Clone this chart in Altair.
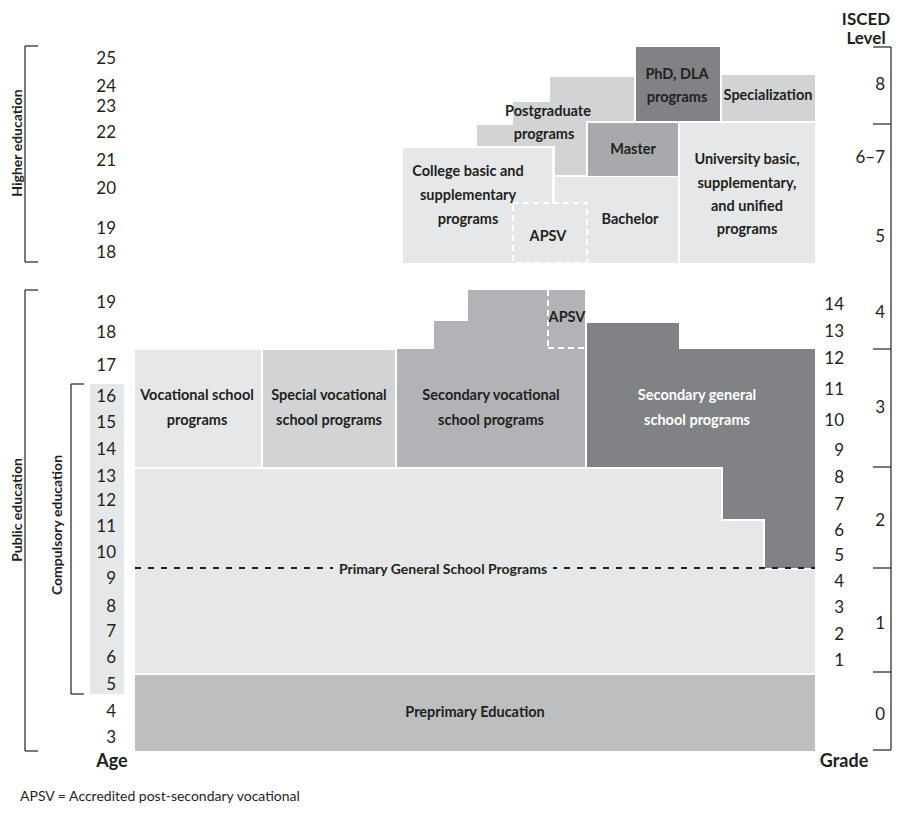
import altair as alt
import pandas as pd

FONT = "Lato"

LIGHT = "#e6e7e8"
MIDLIGHT = "#d1d3d4"
MID = "#b1b3b6"
PRE = "#bcbec0"
MASTER = "#a7a9ac"
DARK = "#808285"

# ---- boxes: program areas (x0, y0, x1, y1 in diagram units), fill ----
box_x0 = [550, 513, 477, 555, 588, 636, 722, 680, 403, 555, 513,
          90,
          135, 263, 397, 434, 468, 587, 587, 723, 765,
          135, 135, 135, 135]
box_y0 = [77, 102, 125, 102, 123, 47, 75, 123, 148, 177, 203,
          384,
          350, 350, 349, 321, 290, 349, 323, 349, 349,
          469, 521, 570, 675]
box_x1 = [634, 586, 586, 586, 678, 720, 815, 815, 552, 678, 587,
          124,
          261, 395, 585, 585, 585, 815, 679, 815, 815,
          721, 763, 815, 815]
box_y1 = [121, 146, 146, 175, 176, 121, 121, 263, 263, 263, 263,
          694,
          467, 467, 467, 467, 467, 467, 467, 519, 568,
          673, 673, 673, 751]
box_fill = [MIDLIGHT, MIDLIGHT, MIDLIGHT, MIDLIGHT, MASTER, DARK, MIDLIGHT, LIGHT, LIGHT, LIGHT, LIGHT,
            LIGHT,
            LIGHT, MIDLIGHT, MID, MID, MID, DARK, DARK, DARK, DARK,
            LIGHT, LIGHT, LIGHT, PRE]

boxes = pd.DataFrame({"x0": box_x0, "y0": box_y0, "x1": box_x1, "y1": box_y1,
                      "fill": box_fill, "order": list(range(len(box_x0)))})

# dashed APSV outline (upper)
apsv_box = pd.DataFrame({"x0": [513], "y0": [203], "x1": [587], "y1": [263]})

# white dashed APSV segments (lower)
wseg = pd.DataFrame({"x0": [548, 548], "y0": [290, 348], "x1": [548, 585], "y1": [348, 348]})

# black dashed primary/lower-secondary line
kdash = pd.DataFrame({"x0": [135], "y0": [568], "x1": [815], "y1": [568]})

# bracket lines
br_x0 = [25, 25, 25, 25, 25, 25, 71, 71, 71,
         891, 873, 873, 873, 873, 873, 873, 873]
br_y0 = [46, 46, 262, 290, 290, 751, 384, 384, 694,
         47, 47, 124, 349, 467, 568, 672, 750]
br_x1 = [25, 38, 38, 25, 38, 38, 71, 84, 84,
         891, 891, 891, 891, 891, 891, 891, 891]
br_y1 = [262, 46, 262, 751, 290, 751, 694, 384, 694,
         750, 47, 124, 349, 467, 568, 672, 750]
brackets = pd.DataFrame({"x0": br_x0, "y0": br_y0, "x1": br_x1, "y1": br_y1})

# ---- program labels ----
lab_text = ["College basic and", "supplementary", "programs", "APSV", "Bachelor",
            "Postgraduate", "programs", "Master", "PhD, DLA", "programs", "Specialization",
            "University basic,", "supplementary,", "and unified", "programs",
            "Vocational school", "programs", "Special vocational", "school programs",
            "Secondary vocational", "school programs", "APSV",
            "Secondary general", "school programs",
            "Preprimary Education"]
lab_x = [468, 468, 468, 548, 630,
         548, 544, 633, 677, 677, 768,
         747, 747, 747, 747,
         197, 197, 329, 329,
         491, 491, 567,
         697, 697,
         475]
lab_y = [172, 196, 220, 237, 220,
         112, 135, 150, 75, 98, 96,
         160, 184, 207, 230,
         396, 421, 396, 421,
         396, 421, 318,
         396, 421,
         713]
lab_color = ["#231f20"] * 22 + ["#ffffff", "#ffffff"] + ["#231f20"]
labels = pd.DataFrame({"text": lab_text, "x": lab_x, "y": lab_y, "color": lab_color})

prim = pd.DataFrame({"text": ["Primary General School Programs"], "x": [443], "y": [570]})

# ---- ages ----
age_text = ["25", "24", "23", "22", "21", "20", "19", "18",
            "19", "18", "17", "16", "15", "14", "13", "12", "11", "10",
            "9", "8", "7", "6", "5", "4", "3"]
age_y = [59, 87, 107, 133, 161, 189, 229, 253,
         303, 333, 366, 397, 423, 450, 477, 501, 527, 553,
         579, 607, 632, 658, 685, 712, 738]
ages = pd.DataFrame({"text": age_text, "x": [116] * len(age_text), "y": age_y})

# ---- grades ----
grade_text = ["14", "13", "12", "11", "10", "9", "8", "7", "6", "5", "4", "3", "2", "1"]
grade_y = [305, 332, 359, 390, 421, 451, 478, 505, 531, 556, 582, 608, 635, 661]
grades = pd.DataFrame({"text": grade_text, "x": [844] * len(grade_text), "y": grade_y})

# ---- ISCED levels ----
isced_text = ["8", "6\u20137", "5", "4", "3", "2", "1", "0"]
isced_y = [85, 158, 237, 313, 408, 521, 624, 715]
isced = pd.DataFrame({"text": isced_text, "x": [885] * len(isced_text), "y": isced_y})

# ---- headers ----
head_text = ["Age", "Grade"]
head_x = [112, 844]
head_y = [762, 762]
heads = pd.DataFrame({"text": head_text, "x": head_x, "y": head_y})

top_text = ["ISCED", "Level"]
top_x = [866, 866]
top_y = [20, 39]
tops = pd.DataFrame({"text": top_text, "x": top_x, "y": top_y})

# ---- rotated bracket labels ----
rot_text = ["Higher education", "Public education", "Compulsory education"]
rot_x = [18, 18, 58]
rot_y = [143, 510, 525]
rots = pd.DataFrame({"text": rot_text, "x": rot_x, "y": rot_y})

foot = pd.DataFrame({"text": ["APSV =  Accredited post-secondary vocational"], "x": [20], "y": [797]})

W, H = 884, 797
xs = alt.Scale(domain=[8, 8 + W], nice=False, zero=False)
ys = alt.Scale(domain=[8, 8 + H], nice=False, zero=False, reverse=True)


def X(f):
    return alt.X(f, type="quantitative", scale=xs, axis=None)


def Y(f):
    return alt.Y(f, type="quantitative", scale=ys, axis=None)


rects = alt.Chart(boxes).mark_rect(strokeWidth=0).encode(
    x=X("x0"), x2="x1", y=Y("y0"), y2="y1",
    color=alt.Color("fill:N", scale=None), order="order:Q")

apsv = alt.Chart(apsv_box).mark_rect(fill=LIGHT, stroke="white", strokeWidth=2,
                                     strokeDash=[6, 4]).encode(
    x=X("x0"), x2="x1", y=Y("y0"), y2="y1")

wlines = alt.Chart(wseg).mark_rule(color="white", strokeWidth=2, strokeDash=[6, 4]).encode(
    x=X("x0"), x2="x1", y=Y("y0"), y2="y1")

klines = alt.Chart(kdash).mark_rule(color="#231f20", strokeWidth=2, strokeDash=[6, 7]).encode(
    x=X("x0"), x2="x1", y=Y("y0"), y2="y1")

# label background over dashed line
pbg = alt.Chart(pd.DataFrame({"x0": [333], "y0": [558], "x1": [553], "y1": [582]})).mark_rect(
    fill=LIGHT).encode(x=X("x0"), x2="x1", y=Y("y0"), y2="y1")

brk = alt.Chart(brackets).mark_rule(color="#231f20", strokeWidth=1.2).encode(
    x=X("x0"), x2="x1", y=Y("y0"), y2="y1")

lab = alt.Chart(labels).mark_text(font=FONT, fontSize=14.5, fontWeight="bold",
                                  align="center", baseline="middle").encode(
    x=X("x"), y=Y("y"), text="text:N", color=alt.Color("color:N", scale=None))

priml = alt.Chart(prim).mark_text(font=FONT, fontSize=14, fontWeight="bold",
                                  align="center", baseline="middle", color="#231f20").encode(
    x=X("x"), y=Y("y"), text="text:N")

agel = alt.Chart(ages).mark_text(font=FONT, fontSize=17, align="right", baseline="middle",
                                 color="#231f20").encode(x=X("x"), y=Y("y"), text="text:N")
gradel = alt.Chart(grades).mark_text(font=FONT, fontSize=17, align="right", baseline="middle",
                                     color="#231f20").encode(x=X("x"), y=Y("y"), text="text:N")
iscedl = alt.Chart(isced).mark_text(font=FONT, fontSize=17, align="right", baseline="middle",
                                    color="#231f20").encode(x=X("x"), y=Y("y"), text="text:N")
headl = alt.Chart(heads).mark_text(font=FONT, fontSize=18, fontWeight="bold", align="center",
                                   baseline="middle", color="#231f20").encode(
    x=X("x"), y=Y("y"), text="text:N")
topl = alt.Chart(tops).mark_text(font=FONT, fontSize=17, fontWeight="bold", align="center",
                                 baseline="middle", color="#231f20").encode(
    x=X("x"), y=Y("y"), text="text:N")
rotl = alt.Chart(rots).mark_text(font=FONT, fontSize=14, fontWeight="bold", align="center",
                                 baseline="middle", angle=270, color="#231f20").encode(
    x=X("x"), y=Y("y"), text="text:N")
footl = alt.Chart(foot).mark_text(font=FONT, fontSize=14, align="left", baseline="middle",
                                  color="#231f20").encode(x=X("x"), y=Y("y"), text="text:N")

chart = alt.layer(rects, apsv, wlines, klines, pbg, brk, lab, priml, agel, gradel, iscedl,
                  headl, topl, rotl, footl).properties(
    width=W, height=H, padding=0, background="white",
    autosize=alt.AutoSizeParams(type="none")
).configure_view(stroke=None)

chart.save("out.html", embed_options={"renderer": "svg", "actions": False})
